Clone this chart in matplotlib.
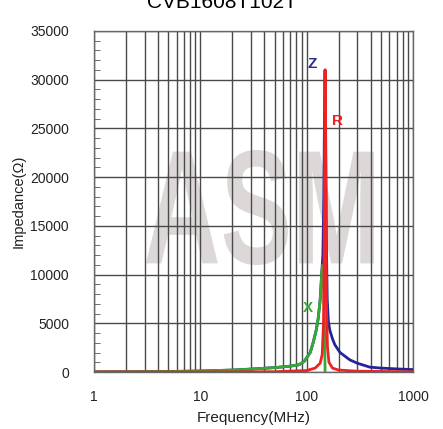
import matplotlib
matplotlib.use("Agg")
import matplotlib.pyplot as plt
from matplotlib.ticker import FixedLocator, NullFormatter, MultipleLocator
from matplotlib.textpath import TextPath
from matplotlib.patches import PathPatch
from matplotlib.font_manager import FontProperties
from matplotlib.transforms import Affine2D

plt.rcParams['font.family'] = ['Liberation Sans', 'DejaVu Sans']

title = "CVB1608T102T"
xlabel = "Frequency(MHz)"
ylabel = "Impedance(\u03a9)"
watermark = "ASM"
xticks = [1, 10, 100, 1000]
xticklabels = ["1", "10", "100", "1000"]
yticks = [0, 5000, 10000, 15000, 20000, 25000, 30000, 35000]

freq_x = [1, 2, 5, 10, 20, 30, 50, 70, 85, 95, 108, 115, 123, 128, 134, 139, 142, 145, 147, 149, 151, 155, 170, 250, 1000]
x_vals = [10, 20, 50, 100, 200, 300, 450, 600, 750, 1100, 2000, 3000, 4300, 5400, 7400, 10300, 11000, 9000, 5000, 0, -4000, -3000, -2000, -1000, -300]

freq_z = [1, 2, 5, 10, 20, 30, 50, 70, 85, 95, 108, 115, 123, 128, 134, 139, 142, 145, 147, 149, 151, 153, 156, 160, 165, 175, 184, 206, 255, 300, 392, 500, 760, 1000]
z_vals = [10, 20, 50, 100, 200, 300, 450, 600, 750, 1100, 2000, 3000, 4300, 5400, 7400, 10400, 12000, 18000, 26000, 31000, 24000, 14000, 7500, 5200, 4300, 3400, 2800, 2000, 1240, 900, 500, 400, 300, 250]

freq_r = [1, 10, 50, 100, 120, 134, 140, 144, 146, 148, 149, 150, 152, 154, 157, 162, 175, 200, 300, 1000]
r_vals = [0, 5, 30, 150, 400, 900, 1800, 5000, 12000, 25000, 31000, 28000, 15000, 6000, 2500, 1000, 400, 200, 80, 20]

W, H = 443, 429
fig = plt.figure(figsize=(W / 100, H / 100), dpi=100)
ax = fig.add_axes([94 / W, 1 - 372 / H, 319 / W, 341 / H])

ax.set_xscale("log")
ax.set_xlim(1, 1000)
ax.set_ylim(0, 35000)

# watermark (behind grid), tall condensed letters
tp = TextPath((0, 0), watermark, size=1, prop=FontProperties(family="Liberation Sans", weight="bold"))
ext = tp.get_extents()
wm_w, wm_h = 228.0, 115.0
wm_x0, wm_y0 = 146.0, H - 265.0
tr = Affine2D().translate(-ext.x0, -ext.y0).scale(wm_w / ext.width, wm_h / ext.height).translate(wm_x0, wm_y0)
ax.add_patch(PathPatch(tp, transform=tr, facecolor="#ddd8d8", edgecolor="none", zorder=0.5))

ax.plot(freq_z, z_vals, color="#24249a", lw=2, zorder=3)
ax.plot(freq_x, x_vals, color="#33aa33", lw=2, zorder=4)
ax.plot(freq_r, r_vals, color="#ee2222", lw=2, zorder=5)

ax.text(112, 31600, "Z", color="#2a2a8a", fontsize=11, fontweight="bold", ha="center", va="center", zorder=6)
ax.text(197, 25800, "R", color="#ee2222", fontsize=11, fontweight="bold", ha="center", va="center", zorder=6)
ax.text(103, 6600, "X", color="#33aa33", fontsize=11, fontweight="bold", ha="center", va="center", zorder=6)

# grid
minor_x = [m * 10 ** d for d in range(0, 3) for m in range(2, 10)]
ax.xaxis.set_major_locator(FixedLocator(xticks))
ax.xaxis.set_minor_locator(FixedLocator(minor_x))
ax.xaxis.set_minor_formatter(NullFormatter())
ax.set_xticklabels(xticklabels)
ax.yaxis.set_major_locator(FixedLocator(yticks))
ax.yaxis.set_minor_locator(MultipleLocator(1000))
ax.grid(True, which="both", axis="x", color="#4a4a4a", lw=1.0, zorder=1)
ax.grid(True, which="major", axis="y", color="#4a4a4a", lw=1.0, zorder=1)

ax.tick_params(axis="x", which="both", length=0, pad=13, labelsize=10, labelcolor="#222222")
ax.tick_params(axis="y", which="major", length=0, pad=18, labelsize=10, labelcolor="#222222")
ax.tick_params(axis="y", which="minor", direction="in", length=4, color="#555555")

for s in ax.spines.values():
    s.set_color("#666666")
    s.set_linewidth(1.0)

ax.set_xlabel(xlabel, fontsize=11, color="#222222", labelpad=5)
ax.set_ylabel(ylabel, fontsize=10.5, color="#222222", labelpad=3)

fig.text(0.5, 1 - 8 / H, title, fontsize=15, ha="center", va="baseline", color="black")

fig.savefig("out.png", dpi=100)
